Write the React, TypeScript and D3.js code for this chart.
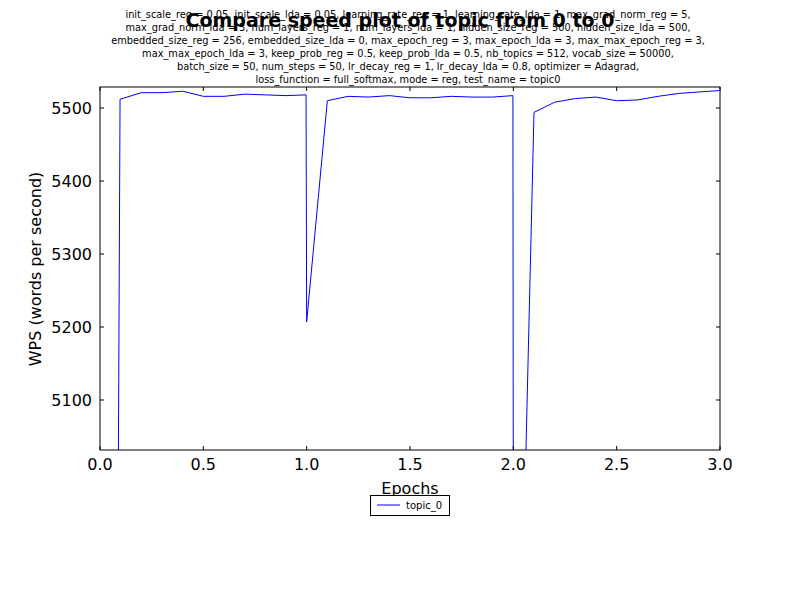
import * as d3 from "d3";

const EPOCHS = [0.087, 0.097, 0.2, 0.3, 0.4, 0.5, 0.6, 0.7, 0.8, 0.9, 0.997, 1.0, 1.1, 1.2, 1.3, 1.4, 1.5, 1.6, 1.7, 1.8, 1.9, 1.998, 2.0, 2.05, 2.1, 2.2, 2.3, 2.4, 2.5, 2.6, 2.7, 2.8, 2.9, 3.0];
const WPS = [4900, 5512, 5521, 5521, 5523, 5516, 5516, 5519, 5518, 5517, 5518, 5207, 5510, 5516, 5515, 5517, 5514, 5514, 5516, 5515, 5515, 5517, 4900, 4900, 5494, 5508, 5513, 5515, 5510, 5511, 5516, 5520, 5522, 5524];
const X_TICKS = [0, 0.5, 1, 1.5, 2, 2.5, 3];
const Y_TICKS = [5100, 5200, 5300, 5400, 5500];
const PARAM_LINES = [
  "init_scale_reg = 0.05, init_scale_lda = 0.05, learning_rate_reg = 1, learning_rate_lda = 1, max_grad_norm_reg = 5,",
  "max_grad_norm_lda = 3, num_layers_reg = 1, num_layers_lda = 1, hidden_size_reg = 500, hidden_size_lda = 500,",
  "embedded_size_reg = 256, embedded_size_lda = 0, max_epoch_reg = 3, max_epoch_lda = 3, max_max_epoch_reg = 3,",
  "max_max_epoch_lda = 3, keep_prob_reg = 0.5, keep_prob_lda = 0.5, nb_topics = 512, vocab_size = 50000,",
  "batch_size = 50, num_steps = 50, lr_decay_reg = 1, lr_decay_lda = 0.8, optimizer = Adagrad,",
  "loss_function = full_softmax, mode = reg, test_name = topic0",
];

export default function App() {
  const L = 100, R = 720, T = 87, B = 450;
  const x = d3.scaleLinear().domain([0, 3]).range([L, R]);
  const y = d3.scaleLinear().domain([5031.5, 5528.8]).range([B, T]);
  const line = d3.line<number>().x((_, i) => x(EPOCHS[i])).y((d) => y(d));
  const font = "DejaVu Sans, sans-serif";
  return (
    <div style={{ position: "absolute", left: 0, top: 0 }}>
      <svg width={800} height={600} style={{ display: "block", fontFamily: font }}>
        <rect width={800} height={600} fill="#fff" />
        <defs>
          <clipPath id="plot"><rect x={L} y={T} width={R - L} height={B - T} /></clipPath>
        </defs>
        <path d={line(WPS) ?? ""} fill="none" stroke="#0000ff" strokeWidth={1} clipPath="url(#plot)" />
        <rect x={L} y={T} width={R - L} height={B - T} fill="none" stroke="#000" />
        {X_TICKS.map((t) => (
          <g key={t}>
            <line x1={x(t)} x2={x(t)} y1={B} y2={B - 4} stroke="#000" />
            <line x1={x(t)} x2={x(t)} y1={T} y2={T + 4} stroke="#000" />
            <text x={x(t)} y={B + 20} textAnchor="middle" fontSize={16}>{t.toFixed(1)}</text>
          </g>
        ))}
        {Y_TICKS.map((t) => (
          <g key={t}>
            <line x1={L} x2={L + 4} y1={y(t)} y2={y(t)} stroke="#000" />
            <line x1={R} x2={R - 4} y1={y(t)} y2={y(t)} stroke="#000" />
            <text x={L - 8} y={y(t) + 6} textAnchor="end" fontSize={16}>{t}</text>
          </g>
        ))}
        <text x={410} y={494} textAnchor="middle" fontSize={16}>Epochs</text>
        <text transform={`translate(41,269) rotate(-90)`} textAnchor="middle" fontSize={16}>WPS (words per second)</text>
        {PARAM_LINES.map((s, i) => (
          <text key={i} x={408} y={18 + i * 13} textAnchor="middle" fontSize={9.8}>{s}</text>
        ))}
        <text x={400} y={27} textAnchor="middle" fontSize={19} fontWeight="bold">Compare speed plot of topic from 0 to 0</text>
        <rect x={370.5} y={495.5} width={79} height={20} fill="#fff" stroke="#000" />
        <line x1={377} x2={400} y1={505} y2={505} stroke="#0000ff" />
        <text x={406} y={509} fontSize={10}>topic_0</text>
      </svg>
    </div>
  );
}
